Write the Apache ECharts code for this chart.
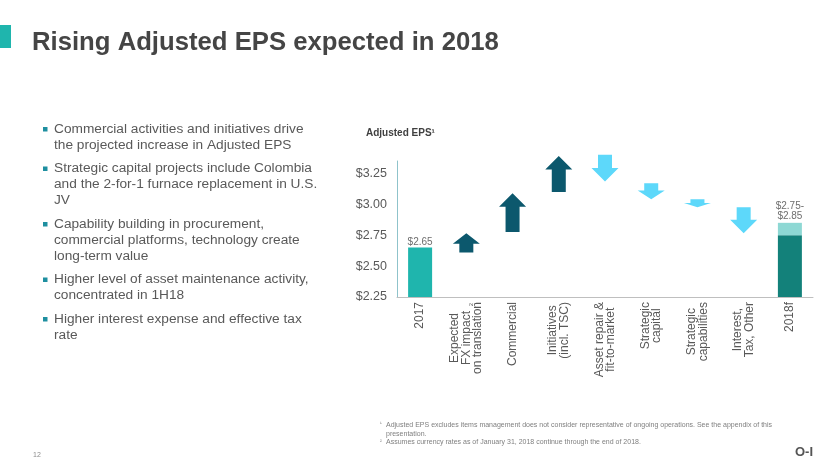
<!DOCTYPE html>
<html><head><meta charset="utf-8">
<script src="https://cdn.jsdelivr.net/npm/echarts@6/dist/echarts.min.js"></script>
<style>html,body{margin:0;padding:0;background:#fff}#c{width:830px;height:467px}</style>
</head><body><div id="c"></div>
<script>
// ---- data ----
const categories = ['2017', 'Expected\nFX impact\non translation', 'Commercial', 'Initiatives\n(incl. TSC)',
  'Asset repair &\nfit-to-market', 'Strategic\ncapital', 'Strategic\ncapabilities', 'Interest,\nTax, Other', '2018f'];
const baseValues = [2.65, null, null, null, null, null, null, null, 2.75];
const rangeValues = [null, null, null, null, null, null, null, null, 0.10];
const barLabels = ['$2.65', '', '', '', '', '', '', '', '$2.75-\n$2.85'];
const arrowFrom = [null, 2.61, 2.775, 3.10, 3.40, 3.17, 3.04, 2.975, null];
const arrowTo = [null, 2.765, 3.09, 3.39, 3.185, 3.04, 2.975, 2.765, null];
const yMin = 2.25, yMax = 3.35, yStep = 0.25;
const titleText = 'Rising Adjusted EPS expected in 2018';
const chartTitle = 'Adjusted EPS\u00b9';
const bullets = [
  ['Commercial activities and initiatives drive', 'the projected increase in Adjusted EPS'],
  ['Strategic capital projects include Colombia', 'and the 2-for-1 furnace replacement in U.S.', 'JV'],
  ['Capability building in procurement,', 'commercial platforms, technology create', 'long-term value'],
  ['Higher level of asset maintenance activity,', 'concentrated in 1H18'],
  ['Higher interest expense and effective tax', 'rate']
];
const footnotes = [
  ['\u00b9', 'Adjusted EPS excludes items management does not consider representative of ongoing operations. See the appendix of this'],
  ['', 'presentation.'],
  ['\u00b2', 'Assumes currency rates as of January 31, 2018 continue through the end of 2018.']
];
const pageNumber = '12';

// ---- build ----
const FONT = '"Liberation Sans", Arial, sans-serif';
const arrowData = [];
arrowFrom.forEach((v, i) => { if (v != null) arrowData.push([i, v, arrowTo[i]]); });

function renderArrow(params, api) {
  const i = api.value(0), a = api.value(1), b = api.value(2);
  const p0 = api.coord([i, a]), p1 = api.coord([i, b]);
  const x = p0[0], y0 = p0[1], y1 = p1[1];
  const len = Math.abs(y1 - y0);
  const dir = y1 < y0 ? -1 : 1;
  const head = Math.min(len * 0.55, 13.5);
  const hw = 13.5, sw = 7;
  const yh = y1 - dir * head;
  const pts = [[x - sw, y0], [x + sw, y0], [x + sw, yh], [x + hw, yh], [x, y1], [x - hw, yh], [x - sw, yh]];
  return { type: 'polygon', shape: { points: pts }, style: { fill: dir < 0 ? '#0C586D' : '#5DD8FA' } };
}

const graphics = [
  { type: 'rect', left: 0, top: 25, shape: { width: 11, height: 23 }, style: { fill: '#1FB5AD' } },
  { type: 'text', x: 32, y: 43, style: { text: titleText, font: 'bold 25.7px ' + FONT, fill: '#454545', verticalAlign: 'middle' } },
  { type: 'text', x: 366, y: 133, style: { text: chartTitle, font: 'bold 10px ' + FONT, fill: '#404040', verticalAlign: 'middle' } },
  { type: 'text', x: 471, y: 303, rotation: Math.PI / 2, style: { text: '2', font: '6px ' + FONT, fill: '#595959', align: 'right', verticalAlign: 'middle' } },
  { type: 'text', x: 33, y: 455, style: { text: pageNumber, font: '7px ' + FONT, fill: '#8c8c8c', verticalAlign: 'middle' } },
  { type: 'text', x: 795, y: 452, style: { text: 'O-I', font: 'bold 13px ' + FONT, fill: '#555555', verticalAlign: 'middle' } }
];
let y = 129;
bullets.forEach((lines, bi) => {
  if (bi > 0) y += 23.5;
  graphics.push({ type: 'rect', left: 43, top: y - 2, shape: { width: 4.5, height: 4.5 }, style: { fill: '#1E8FA0' } });
  lines.forEach((t, li) => {
    if (li > 0) y += 16;
    graphics.push({ type: 'text', x: 54, y: y, style: { text: t, font: '13.7px ' + FONT, fill: '#595959', verticalAlign: 'middle' } });
  });
});
let fy = 425;
footnotes.forEach((f) => {
  if (f[0]) graphics.push({ type: 'text', x: 380, y: fy - 1, style: { text: f[0], font: '5px ' + FONT, fill: '#7f7f7f', verticalAlign: 'middle' } });
  graphics.push({ type: 'text', x: 386, y: fy, style: { text: f[1], font: '7px ' + FONT, fill: '#7f7f7f', verticalAlign: 'middle' } });
  fy += 8.7;
});

const chart = echarts.init(document.getElementById('c'), null, { renderer: 'canvas' });
chart.setOption({
  animation: false,
  backgroundColor: '#ffffff',
  textStyle: { fontFamily: FONT },
  grid: { left: 397, right: 17, top: 161, bottom: 170, containLabel: false, outerBoundsMode: 'none' },
  xAxis: {
    type: 'category', data: categories,
    axisLine: { lineStyle: { color: '#BFBFBF', width: 1 } },
    axisTick: { show: false },
    splitLine: { show: false },
    axisLabel: {
      rotate: 90, margin: 5, interval: 0,
      formatter: v => v.split('\n').map(s => '{c|' + s + '}').join('\n'),
      rich: { c: { align: 'center', fontSize: 12, lineHeight: 11.5, color: '#595959', fontFamily: FONT } }
    }
  },
  yAxis: {
    type: 'value', min: yMin, max: yMax, interval: yStep,
    axisLine: { show: true, lineStyle: { color: '#8FC3CB', width: 1 } },
    axisTick: { show: false },
    splitLine: { show: false },
    axisLabel: {
      showMaxLabel: false, margin: 10, fontSize: 12.5, color: '#595959', fontFamily: FONT,
      formatter: v => (Math.abs(v / yStep - Math.round(v / yStep)) < 1e-6 ? '$' + v.toFixed(2) : '')
    }
  },
  series: [
    {
      type: 'bar', stack: 'eps', data: baseValues, barWidth: 24, clip: true,
      itemStyle: { color: p => (p.dataIndex === 0 ? '#1FB5AD' : '#13817A') },
      label: { show: true, position: 'top', distance: 0, fontSize: 10, color: '#6e6e6e', fontFamily: FONT,
        formatter: p => (p.dataIndex === 0 ? barLabels[p.dataIndex] : '') }
    },
    {
      type: 'bar', stack: 'eps', data: rangeValues, barWidth: 24, clip: true,
      itemStyle: { color: '#8ED8D4' },
      label: { show: true, position: 'top', distance: 1, fontSize: 10, lineHeight: 10.5, color: '#6e6e6e', fontFamily: FONT,
        formatter: p => barLabels[p.dataIndex] }
    },
    {
      type: 'custom', data: arrowData, renderItem: renderArrow, clip: false,
      encode: { x: 0, y: [1, 2] }, z: 3
    }
  ],
  graphic: graphics
});
</script></body></html>
